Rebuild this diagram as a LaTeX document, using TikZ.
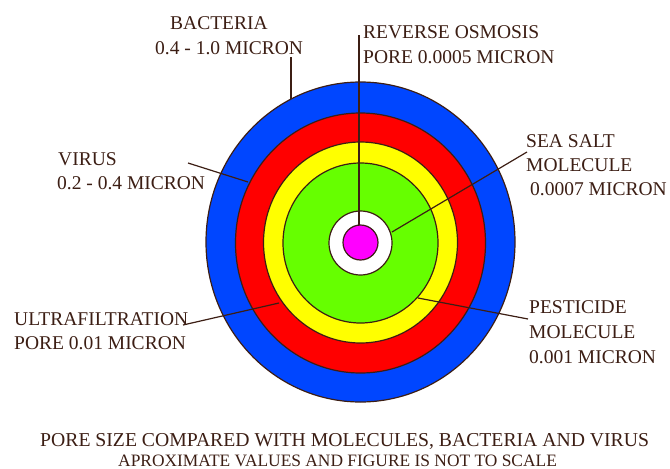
\documentclass[tikz,border=0pt]{standalone}
\usepackage{fontspec}
\setmainfont{Liberation Serif}
\usetikzlibrary{shapes.geometric}
\definecolor{ink}{HTML}{3C1E14}
\definecolor{ringblue}{HTML}{0046FF}
\definecolor{ringred}{HTML}{FF0000}
\definecolor{ringyellow}{HTML}{FFFF00}
\definecolor{ringgreen}{HTML}{66FF00}
\definecolor{ringmag}{HTML}{FF00FF}
\tikzset{
  ring/.style={ellipse, draw=ink, line width=1.2pt, inner sep=0pt},
  lbl/.style={anchor=base west, inner sep=0pt, text=ink, font=\fontsize{19.5}{20}\selectfont},
  lead/.style={draw=ink, line width=1.2pt},
}
\begin{document}
\begin{tikzpicture}[x=1pt,y=-1pt]
\useasboundingbox (0,0) rectangle (670,469);
% rings
\node[ring, fill=ringblue, minimum width=309pt, minimum height=320pt] (blue) at (360.5,242) {};
\node[ring, fill=ringred, minimum width=250pt, minimum height=260pt] (red) at (360.5,243) {};
\node[ring, fill=ringyellow, minimum width=194pt, minimum height=201pt] (yellow) at (360.5,242.5) {};
\node[ring, fill=ringgreen, minimum width=155pt, minimum height=160pt] (green) at (360.5,243) {};
\node[ring, fill=white, minimum width=63pt, minimum height=64pt] (white) at (360.5,243) {};
\node[ring, fill=ringmag, minimum width=35pt, minimum height=35pt] (mag) at (360.5,242.5) {};
% labels
\node[lbl] (bac1) at (170,29) {BACTERIA};
\node[lbl] (bac2) at (155,54) {0.4 - 1.0 MICRON};
\node[lbl] (vir1) at (58,165) {VIRUS};
\node[lbl] (vir2) at (57,189) {0.2 - 0.4 MICRON};
\node[lbl] (ro1) at (363,38) {REVERSE OSMOSIS};
\node[lbl] (ro2) at (363,63) {PORE 0.0005 MICRON};
\node[lbl] (ss1) at (526,147) {SEA SALT};
\node[lbl] (ss2) at (526,171) {MOLECULE};
\node[lbl] (ss3) at (530,195) {0.0007 MICRON};
\node[lbl] (uf1) at (14,325) {ULTRAFILTRATION};
\node[lbl] (uf2) at (14,349) {PORE 0.01 MICRON};
\node[lbl] (pe1) at (529,313) {PESTICIDE};
\node[lbl] (pe2) at (529,338) {MOLECULE};
\node[lbl] (pe3) at (529,363) {0.001 MICRON};
\node[lbl, font=\fontsize{19.7}{20}\selectfont] (cap1) at (40,446) {PORE SIZE COMPARED WITH MOLECULES, BACTERIA AND VIRUS};
\node[lbl, font=\fontsize{17.4}{18}\selectfont] (cap2) at (118,466) {APROXIMATE VALUES AND FIGURE IS NOT TO SCALE};
% leader ends
\coordinate (roA) at (359,35);   \coordinate (roB) at (359,225);
\coordinate (bacA) at (291,57);  \coordinate (bacB) at (291,99);
\coordinate (virA) at (188,163); \coordinate (virB) at (248,182);
\coordinate (ssA) at (527,152);  \coordinate (ssB) at (392,232);
\coordinate (ufA) at (183,325);  \coordinate (ufB) at (279,303);
\coordinate (peA) at (528,319);  \coordinate (peB) at (418,298);
% leaders
\draw[lead] (roA) -- (roB);
\draw[lead] (bacA) -- (bacB);
\draw[lead] (virA) -- (virB);
\draw[lead] (ssA) -- (ssB);
\draw[lead] (ufA) -- (ufB);
\draw[lead] (peA) -- (peB);
\end{tikzpicture}
\end{document}
